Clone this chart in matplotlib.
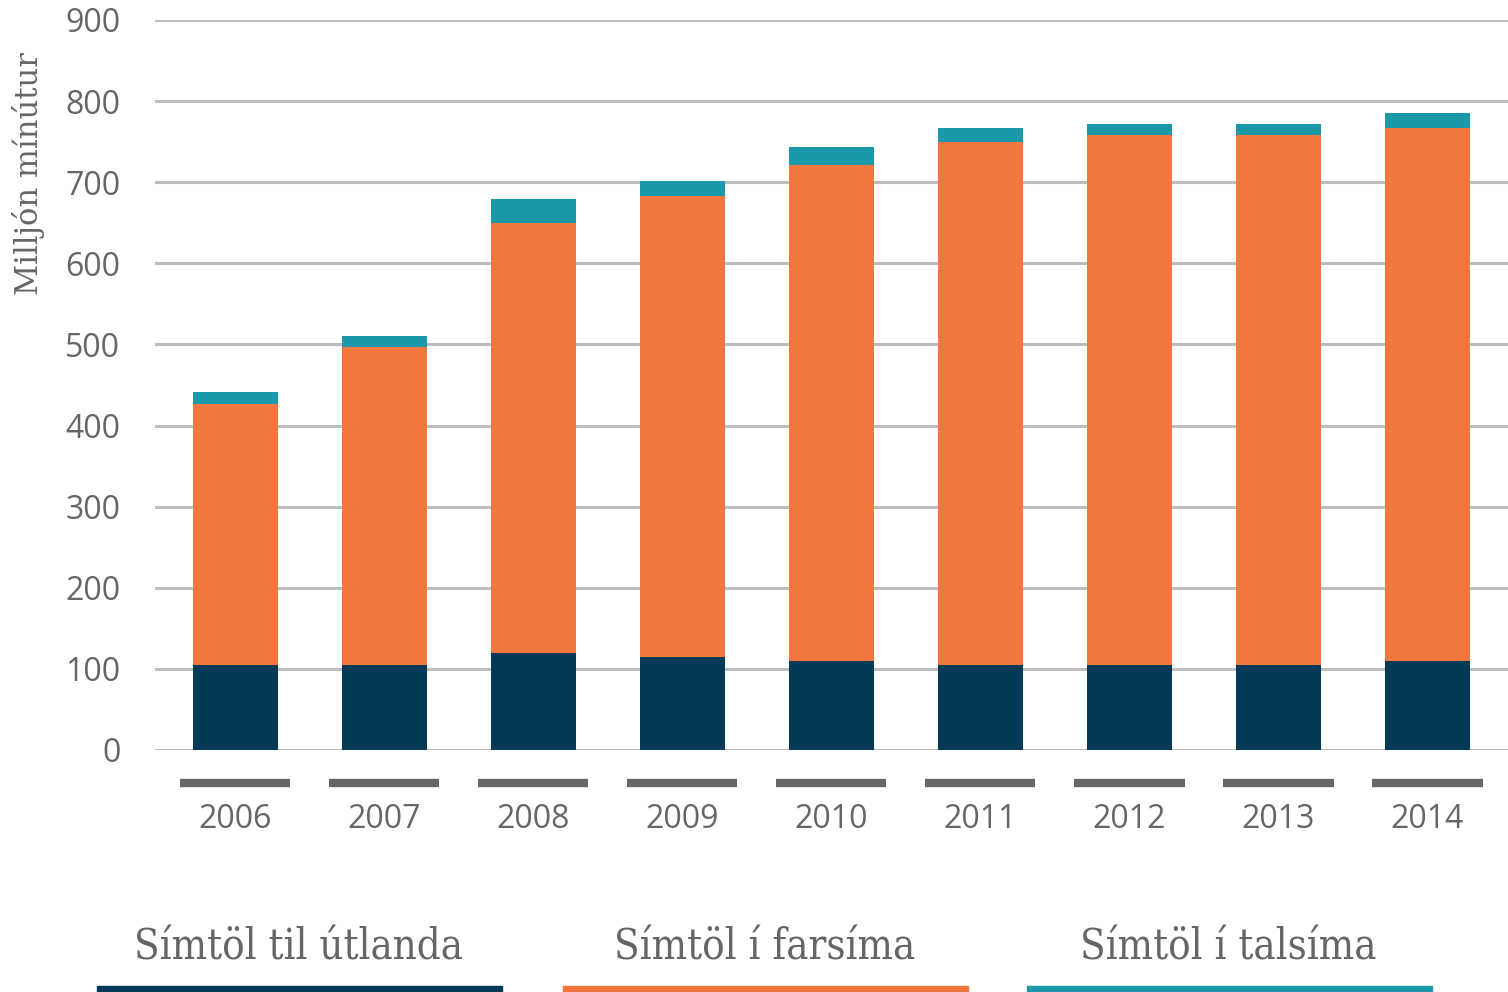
import matplotlib
matplotlib.use('Agg')
import matplotlib.pyplot as plt
from matplotlib.patches import Rectangle
import matplotlib.transforms as mtransforms

# values in million minutes
years = ['2006', '2007', '2008', '2009', '2010', '2011', '2012', '2013', '2014']
utlanda = [105, 105, 120, 115, 110, 105, 105, 105, 110]
farsima = [322, 392, 530, 568, 611, 644, 653, 653, 657]
talsima = [14, 13, 29, 19, 22, 18, 14, 14, 18]

series_names = ['Símtöl til útlanda', 'Símtöl í farsíma', 'Símtöl í talsíma']
colors = ['#043a57', '#f2773f', '#1b98aa']

W, H = 1508, 992
fig = plt.figure(figsize=(W / 100, H / 100), dpi=100)
ax = fig.add_axes([155 / W, 1 - 750 / H, 1 - 155 / W, (750 - 20) / H])

x = list(range(len(years)))
bw = 0.57
ax.bar(x, utlanda, bw, color=colors[0], zorder=3)
ax.bar(x, farsima, bw, bottom=utlanda, color=colors[1], zorder=3)
bottom2 = [a + b for a, b in zip(utlanda, farsima)]
ax.bar(x, talsima, bw, bottom=bottom2, color=colors[2], zorder=3)

ax.set_xlim(-0.537, 8.54)
ax.set_ylim(0, 900)
ax.set_yticks(range(0, 901, 100))
ax.grid(axis='y', color='#bdbdbd', linewidth=2.2, zorder=0)
for s in ax.spines.values():
    s.set_visible(False)

ax.tick_params(axis='y', length=0, pad=25, labelsize=23, labelcolor='#666666')
ax.tick_params(axis='x', length=0, pad=38, labelsize=23, labelcolor='#666666')
ax.set_xticks(x)
ax.set_xticklabels(years)
for lbl in ax.get_xticklabels() + ax.get_yticklabels():
    lbl.set_family('Open Sans')

# grey bars under each category
trans = mtransforms.blended_transform_factory(ax.transData, ax.transAxes)
for xi in x:
    ax.plot([xi - 0.37, xi + 0.37], [-0.045, -0.045], transform=trans,
            color='#666666', linewidth=6, solid_capstyle='butt', clip_on=False)

ax.set_ylabel('Milljón mínútur', family='DejaVu Serif', fontsize=22,
              color='#666666')
ax.yaxis.set_label_coords(-0.081, 0.79)

# legend: label above a coloured bar
centers = [298, 765, 1228]
spans = [(97, 502), (563, 968), (1027, 1432)]
for name, c, cx, (x0, x1) in zip(series_names, colors, centers, spans):
    fig.text(cx / W, 1 - 948 / H, name, ha='center', va='center',
             family='DejaVu Serif', stretch='condensed', fontsize=30, color='#666666')
    fig.add_artist(Rectangle((x0 / W, 0), (x1 - x0) / W, 6 / H,
                             transform=fig.transFigure, color=c))

fig.savefig('out.png', dpi=100)
